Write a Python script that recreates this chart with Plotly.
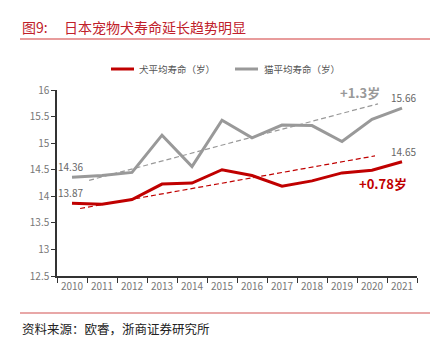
import plotly.graph_objects as go

# Data
years = list(range(2010, 2022))
dog_life = [13.87, 13.85, 13.94, 14.23, 14.25, 14.50, 14.39, 14.19, 14.29, 14.44, 14.49, 14.65]
cat_life = [14.36, 14.39, 14.45, 15.15, 14.56, 15.43, 15.10, 15.34, 15.33, 15.03, 15.45, 15.66]
y_ticks = [12.5, 13, 13.5, 14, 14.5, 15, 15.5, 16]
y_tick_text = ["12.5", "13", "13.5", "14", "14.5", "15", "15.5", "16"]

# Trend line endpoints (year position, value)
dog_trend_x = [2010.27, 2020.1]
dog_trend_y = [13.77, 14.76]
cat_trend_x = [2010.57, 2020.2]
cat_trend_y = [14.30, 15.74]

dog_name = "犬平均寿命（岁）"
cat_name = "猫平均寿命（岁）"
dog_gain = "+0.78岁"
cat_gain = "+1.3岁"

RED = "#c00000"
GRAY = "#999999"
FONT = "Noto Sans CJK SC"

W, H = 435, 348
L, R, T, B = 57, 18, 90, 72
PW, PH = W - L - R, H - T - B


def px(x):
    return (x - L) / PW


def py(y):
    return (H - B - y) / PH


fig = go.Figure()

fig.add_trace(go.Scatter(x=cat_trend_x, y=cat_trend_y, mode="lines",
                         line=dict(color=GRAY, width=1.2, dash="5px,3px"),
                         showlegend=False, hoverinfo="skip"))
fig.add_trace(go.Scatter(x=dog_trend_x, y=dog_trend_y, mode="lines",
                         line=dict(color=RED, width=1.2, dash="5px,3px"),
                         showlegend=False, hoverinfo="skip"))
fig.add_trace(go.Scatter(x=years, y=cat_life, mode="lines", name=cat_name,
                         line=dict(color=GRAY, width=3), showlegend=False))
fig.add_trace(go.Scatter(x=years, y=dog_life, mode="lines", name=dog_name,
                         line=dict(color=RED, width=3), showlegend=False))

annotations = []

# End-point value labels
for yr, val in [(years[0], cat_life[0]), (years[0], dog_life[0]),
                (years[-1], cat_life[-1]), (years[-1], dog_life[-1])]:
    annotations.append(dict(x=yr, y=val, text=f"{val:.2f}", showarrow=False,
                            xanchor="center", yanchor="bottom", yshift=1,
                            xshift=-2 if yr == years[0] else 1,
                            font=dict(family=FONT, size=10, color="#666666")))

# Gain labels
annotations.append(dict(x=2019.6, y=15.96, text=f"<b>{cat_gain}</b>", showarrow=False,
                        font=dict(family=FONT, size=13, color=GRAY)))
annotations.append(dict(x=2020.37, y=14.25, text=f"<b>{dog_gain}</b>", showarrow=False,
                        font=dict(family=FONT, size=13, color=RED)))

# Title
annotations.append(dict(xref="paper", yref="paper", x=px(20), y=py(27), xanchor="left",
                        yanchor="middle", showarrow=False,
                        text="图9:",
                        font=dict(family=FONT, size=14, color="#c0202a")))
annotations.append(dict(xref="paper", yref="paper", x=px(62), y=py(27), xanchor="left",
                        yanchor="middle", showarrow=False,
                        text="日本宠物犬寿命延长趋势明显",
                        font=dict(family=FONT, size=14, color="#c0202a")))
# Source
annotations.append(dict(xref="paper", yref="paper", x=px(20), y=py(328), xanchor="left",
                        yanchor="middle", showarrow=False,
                        text="资料来源：欧睿，浙商证券研究所",
                        font=dict(family=FONT, size=12.5, color="#222222")))
# Legend labels
annotations.append(dict(xref="paper", yref="paper", x=px(137), y=py(69), xanchor="left",
                        yanchor="middle", showarrow=False, text=dog_name,
                        font=dict(family=FONT, size=9.5, color="#555555")))
annotations.append(dict(xref="paper", yref="paper", x=px(262), y=py(69), xanchor="left",
                        yanchor="middle", showarrow=False, text=cat_name,
                        font=dict(family=FONT, size=9.5, color="#555555")))

shapes = [
    dict(type="line", xref="paper", yref="paper", x0=px(20), x1=px(430),
         y0=py(39), y1=py(39), line=dict(color="#d23a3a", width=1.2)),
    dict(type="line", xref="paper", yref="paper", x0=px(20), x1=px(430),
         y0=py(313), y1=py(313), line=dict(color="#e08a8a", width=1.5)),
    dict(type="line", xref="paper", yref="paper", x0=px(111), x1=px(134),
         y0=py(69), y1=py(69), line=dict(color=RED, width=3)),
    dict(type="line", xref="paper", yref="paper", x0=px(235), x1=px(258),
         y0=py(69), y1=py(69), line=dict(color=GRAY, width=3)),
]

fig.update_layout(
    width=W, height=H,
    margin=dict(l=L, r=R, t=T, b=B),
    paper_bgcolor="white", plot_bgcolor="white",
    showlegend=False,
    annotations=annotations,
    shapes=shapes,
    xaxis=dict(range=[2009.5, 2021.5], tickvals=years, ticktext=[str(y) for y in years],
               ticks="", showgrid=False, zeroline=False,
               showline=True, linecolor="#333333", linewidth=1.5,
               tickfont=dict(family=FONT, size=10, color="#777777"),
               minor=dict(tickvals=[y - 0.5 for y in years] + [2021.5], ticks="outside",
                          ticklen=5, tickcolor="#333333", tickwidth=1, showgrid=False)),
    yaxis=dict(range=[12.5, 16], tickvals=y_ticks, ticktext=y_tick_text,
               ticks="outside", ticklen=4,
               tickcolor="#333333", showgrid=False, zeroline=False,
               showline=True, linecolor="#333333", linewidth=1.5,
               tickfont=dict(family=FONT, size=10, color="#777777")),
)

fig.write_html("out.html")
